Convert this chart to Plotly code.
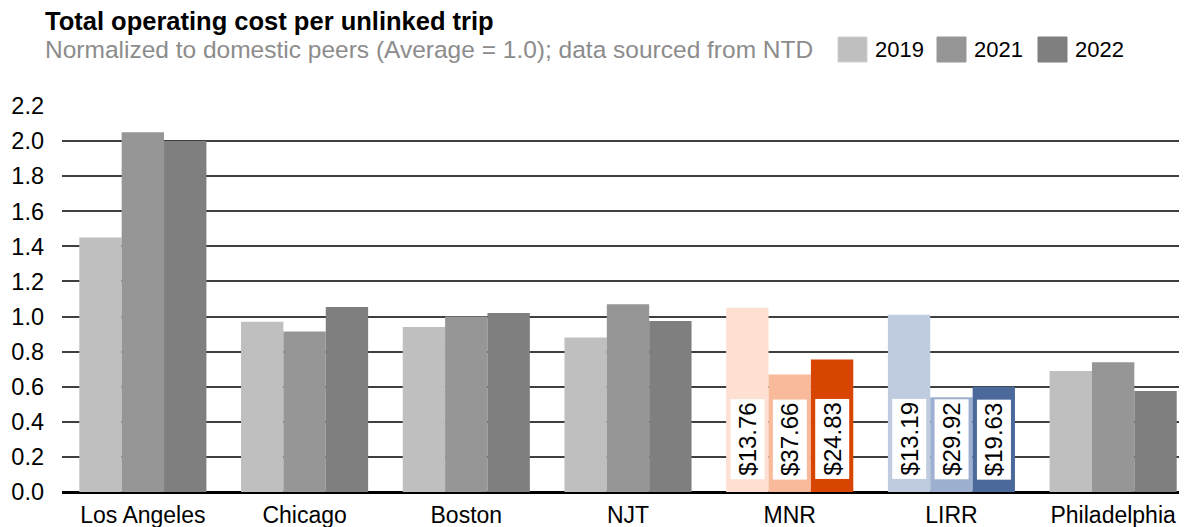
import plotly.graph_objects as go

categories = ["Los Angeles", "Chicago", "Boston", "NJT", "MNR", "LIRR", "Philadelphia"]
years = ["2019", "2021", "2022"]
v2019 = [1.45, 0.97, 0.94, 0.88, 1.05, 1.01, 0.69]
v2021 = [2.05, 0.915, 1.00, 1.07, 0.67, 0.54, 0.74]
v2022 = [2.00, 1.055, 1.02, 0.975, 0.755, 0.60, 0.575]
values = [v2019, v2021, v2022]

cost_labels = {
    "MNR": ["$13.76", "$37.66", "$24.83"],
    "LIRR": ["$13.19", "$29.92", "$19.63"],
}

gray = ["#BFBFBF", "#969696", "#7F7F7F"]
mnr_col = ["#FDE0D2", "#F9BA9C", "#D84500"]
lirr_col = ["#BFCCE0", "#9DB0CF", "#4B6A9B"]

# page body has an 8px offset; margins compensate
OFF = 8
W, H = 1187, 527
ML, MR, MT, MB = 62 - OFF, 1, 106 - OFF, 35 + OFF
BARGAP = 0.214
FONT = "Liberation Sans, Arial, sans-serif"

plot_w = W - ML - MR
ph = H - MT - MB


def px_x(xp):
    return (xp - OFF - ML) / plot_w


def px_y(yp):
    return 1 + (MT + OFF - yp) / ph


fig = go.Figure()
for i, yr in enumerate(years):
    cols = []
    for c in categories:
        if c == "MNR":
            cols.append(mnr_col[i])
        elif c == "LIRR":
            cols.append(lirr_col[i])
        else:
            cols.append(gray[i])
    fig.add_trace(go.Bar(
        x=categories, y=values[i], name=yr,
        marker=dict(color=cols, line=dict(width=0)),
        showlegend=False,
    ))

# value labels (white boxes, rotated text)
bar_w = plot_w / len(categories) * (1 - BARGAP) / 3
for cat, labs in cost_labels.items():
    for i, lab in enumerate(labs):
        fig.add_annotation(
            x=cat, y=0.3, xref="x", yref="y", text=lab, showarrow=False,
            textangle=-90, xshift=(i - 1) * bar_w, bgcolor="white",
            font=dict(family=FONT, size=24, color="black"),
            borderpad=3,
        )

# title and subtitle
fig.add_annotation(x=px_x(43), y=px_y(21), xref="paper", yref="paper",
                   text="<b>Total operating cost per unlinked trip</b>", showarrow=False,
                   xanchor="left", yanchor="middle",
                   font=dict(family=FONT, size=25.5, color="black"))
fig.add_annotation(x=px_x(43), y=px_y(50), xref="paper", yref="paper",
                   text="Normalized to domestic peers (Average = 1.0); data sourced from NTD", showarrow=False,
                   xanchor="left", yanchor="middle",
                   font=dict(family=FONT, size=24.5, color="#8C8C8C"))

# legend drawn manually for larger swatches
leg_x = [838, 937, 1038]
for i, yr in enumerate(years):
    fig.add_shape(type="rect", xref="paper", yref="paper",
                  x0=px_x(leg_x[i]), x1=px_x(leg_x[i] + 29),
                  y0=px_y(62), y1=px_y(37),
                  fillcolor=gray[i], line=dict(width=1, color="#D0D0D0" if i == 0 else gray[i]))
    fig.add_annotation(x=px_x(leg_x[i] + 35), y=px_y(50),
                       xref="paper", yref="paper", text=yr, showarrow=False,
                       xanchor="left", yanchor="middle",
                       font=dict(family=FONT, size=22, color="black"))

fig.update_layout(
    width=W, height=H,
    margin=dict(l=ML, r=MR, t=MT, b=MB, pad=0),
    barmode="group", bargap=BARGAP, bargroupgap=0,
    plot_bgcolor="white", paper_bgcolor="white",
    font=dict(family=FONT, size=23, color="black"),
    xaxis=dict(showgrid=False, showline=False, ticks="", tickfont=dict(size=23),
               ticklabelstandoff=7, fixedrange=True),
    yaxis=dict(range=[0, 2.2], dtick=0.2, tickformat=".1f", showgrid=True,
               gridcolor="#3F3F3F", gridwidth=1.5, zeroline=True, zerolinecolor="black",
               zerolinewidth=2.5, ticks="", ticklabelstandoff=17, tickfont=dict(size=23.5),
               showline=False),
)

fig.write_html("out.html")
